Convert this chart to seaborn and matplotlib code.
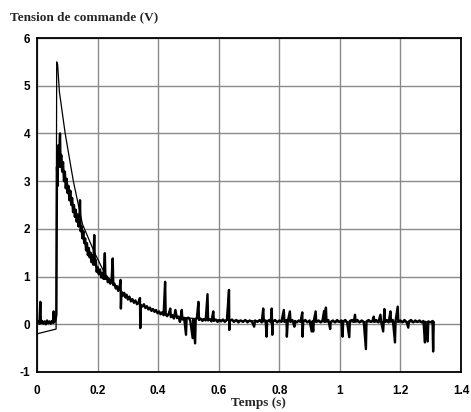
import matplotlib
matplotlib.use("Agg")
import matplotlib.pyplot as plt
import numpy as np
import pandas as pd
import seaborn as sns

# Model response (thin line)
model_t = [0.000, 0.063, 0.065, 0.068, 0.074, 0.093, 0.120, 0.150, 0.190, 0.225,
           0.260, 0.300, 0.350, 0.400, 0.450, 0.500, 0.600, 0.800, 1.000, 1.310]
model_v = [-0.20, -0.10, 5.50, 5.45, 4.87, 4.00, 3.00, 2.10, 1.50, 1.05,
           0.80, 0.55, 0.38, 0.26, 0.18, 0.13, 0.09, 0.06, 0.05, 0.05]

meas_t = [
    0.000, 0.004, 0.008, 0.011, 0.013, 0.017, 0.021, 0.025, 0.029, 0.033,
    0.037, 0.041, 0.045, 0.049, 0.053, 0.055, 0.057, 0.061, 0.064, 0.066,
    0.068, 0.070, 0.072, 0.074, 0.076, 0.078, 0.080, 0.083, 0.086, 0.089,
    0.092, 0.095, 0.098, 0.101, 0.104, 0.107, 0.110, 0.113, 0.116, 0.119,
    0.122, 0.125, 0.128, 0.131, 0.134, 0.137, 0.140, 0.142, 0.144, 0.147,
    0.150, 0.153, 0.156, 0.159, 0.162, 0.165, 0.168, 0.171, 0.174, 0.177,
    0.180, 0.183, 0.186, 0.189, 0.191, 0.194, 0.197, 0.200, 0.204, 0.208,
    0.212, 0.216, 0.220, 0.224, 0.226, 0.230, 0.234, 0.238, 0.242, 0.246,
    0.250, 0.252, 0.256, 0.260, 0.264, 0.268, 0.272, 0.276, 0.277, 0.279,
    0.284, 0.288, 0.292, 0.296, 0.300, 0.305, 0.310, 0.315, 0.320, 0.325,
    0.330, 0.335, 0.340, 0.341, 0.343, 0.348, 0.353, 0.358, 0.363, 0.368,
    0.373, 0.378, 0.383, 0.388, 0.393, 0.398, 0.403, 0.408, 0.413, 0.418,
    0.423, 0.425, 0.430, 0.435, 0.440, 0.442, 0.447, 0.452, 0.457, 0.462,
    0.467, 0.472, 0.478, 0.480, 0.486, 0.492, 0.494, 0.500, 0.506, 0.514,
    0.516, 0.522, 0.524, 0.528, 0.533, 0.535, 0.540, 0.546, 0.552, 0.557,
    0.563, 0.565, 0.570, 0.576, 0.582, 0.584, 0.590, 0.596, 0.602, 0.608,
    0.614, 0.620, 0.627, 0.634, 0.635, 0.637, 0.644, 0.650, 0.658, 0.665,
    0.672, 0.680, 0.688, 0.695, 0.702, 0.710, 0.717, 0.720, 0.728, 0.735,
    0.742, 0.747, 0.749, 0.755, 0.758, 0.760, 0.767, 0.772, 0.775, 0.777,
    0.779, 0.786, 0.793, 0.800, 0.807, 0.815, 0.817, 0.824, 0.825, 0.828,
    0.835, 0.837, 0.843, 0.850, 0.852, 0.858, 0.864, 0.870, 0.876, 0.877,
    0.879, 0.886, 0.893, 0.900, 0.907, 0.909, 0.912, 0.914, 0.920, 0.922,
    0.930, 0.937, 0.943, 0.948, 0.950, 0.954, 0.956, 0.962, 0.968, 0.970,
    0.977, 0.984, 0.991, 0.998, 1.005, 1.009, 1.011, 1.018, 1.024, 1.031,
    1.033, 1.040, 1.046, 1.050, 1.052, 1.058, 1.065, 1.072, 1.079, 1.086,
    1.088, 1.095, 1.102, 1.108, 1.112, 1.114, 1.120, 1.127, 1.134, 1.136,
    1.143, 1.145, 1.147, 1.149, 1.155, 1.161, 1.167, 1.169, 1.175, 1.182,
    1.184, 1.191, 1.193, 1.200, 1.207, 1.213, 1.220, 1.226, 1.228, 1.235,
    1.242, 1.249, 1.256, 1.263, 1.270, 1.276, 1.281, 1.283, 1.290, 1.292,
    1.300, 1.306, 1.308, 1.310,
]
meas_v = [
    0.03, 0.06, 0.01, 0.47, 0.02, 0.07, 0.01, 0.06, 0.00, 0.08,
    0.02, 0.06, 0.01, 0.07, 0.03, 0.27, 0.04, 0.09, 0.20, 3.30,
    2.90, 3.75, 3.30, 3.65, 4.00, 3.30, 3.55, 3.20, 3.40, 3.00,
    3.20, 2.85, 3.05, 2.75, 2.90, 2.60, 2.80, 2.50, 2.65, 2.35,
    2.50, 2.25, 2.40, 2.15, 2.30, 2.05, 2.20, 2.60, 1.95, 2.05,
    1.80, 1.95, 1.70, 1.80, 1.55, 1.70, 1.45, 1.60, 1.40, 1.50,
    1.30, 1.45, 1.25, 1.87, 1.25, 1.35, 1.10, 1.20, 1.05, 1.15,
    0.98, 1.08, 0.95, 1.49, 0.95, 1.00, 0.88, 0.95, 0.85, 0.90,
    1.38, 0.82, 0.85, 0.75, 0.80, 0.70, 0.76, 0.93, 0.33, 0.68,
    0.60, 0.66, 0.56, 0.62, 0.52, 0.58, 0.48, 0.53, 0.45, 0.50,
    0.42, 0.46, 0.55, -0.08, 0.40, 0.37, 0.42, 0.34, 0.38, 0.31,
    0.35, 0.28, 0.32, 0.26, 0.30, 0.23, 0.27, 0.21, 0.25, 0.19,
    0.89, 0.20, 0.17, 0.22, 0.33, 0.15, 0.19, 0.12, 0.30, 0.13,
    0.16, 0.05, 0.30, 0.10, 0.13, -0.22, 0.12, 0.14, 0.08, -0.29,
    0.11, -0.40, 0.10, 0.14, 0.47, 0.09, 0.12, 0.07, 0.11, 0.08,
    0.63, 0.08, 0.11, 0.06, 0.27, 0.07, 0.10, 0.05, 0.09, 0.06,
    0.10, 0.05, 0.09, 0.72, -0.12, 0.07, 0.10, 0.05, 0.09, 0.04,
    0.08, 0.05, 0.09, 0.04, 0.08, 0.05, -0.05, 0.08, 0.05, 0.09,
    0.04, 0.33, 0.06, 0.08, -0.26, 0.06, 0.09, 0.04, 0.33, -0.22,
    0.06, 0.09, 0.04, 0.08, 0.05, 0.30, 0.05, 0.09, -0.26, 0.06,
    0.27, 0.05, 0.09, -0.05, 0.07, 0.04, 0.08, 0.05, 0.25, -0.26,
    0.06, 0.09, 0.04, 0.08, -0.15, 0.06, -0.15, 0.07, 0.27, 0.05,
    0.08, 0.04, 0.09, 0.28, 0.05, 0.35, 0.06, 0.09, -0.10, 0.05,
    0.08, 0.04, 0.09, 0.05, 0.08, -0.26, 0.06, 0.09, 0.04, -0.27,
    0.07, 0.09, 0.05, 0.20, 0.06, 0.09, 0.04, 0.08, 0.05, -0.52,
    0.06, 0.09, 0.05, 0.08, 0.16, 0.05, 0.09, 0.04, 0.20, 0.06,
    -0.15, 0.07, 0.32, 0.05, 0.09, 0.04, 0.27, 0.06, 0.09, -0.38,
    0.07, 0.37, 0.05, 0.08, 0.04, 0.09, 0.05, -0.07, 0.06, 0.09,
    0.04, 0.08, 0.05, 0.08, 0.04, 0.07, -0.38, 0.05, -0.36, 0.06,
    0.04, 0.07, -0.57, 0.05,
]

x_ticks = [0, 0.2, 0.4, 0.6, 0.8, 1.0, 1.2, 1.4]
x_tick_labels = ["0", "0.2", "0.4", "0.6", "0.8", "1", "1.2", "1.4"]
y_ticks = [-1, 0, 1, 2, 3, 4, 5, 6]

df_model = pd.DataFrame({"t": model_t, "v": model_v})
df_meas = pd.DataFrame({"t": meas_t, "v": meas_v})

sns.set_style("whitegrid")
plt.rcParams["font.family"] = ["Liberation Sans", "DejaVu Sans"]
plt.rcParams["axes.unicode_minus"] = False

fig = plt.figure(figsize=(4.71, 4.12), dpi=100)
ax = fig.add_axes([37 / 471, 1 - 372 / 412, 424 / 471, 334 / 412])

sns.lineplot(data=df_model, x="t", y="v", ax=ax, color="black",
             linewidth=0.9, estimator=None, sort=False)
sns.lineplot(data=df_meas, x="t", y="v", ax=ax, color="black",
             linewidth=1.7, estimator=None, sort=False)

ax.set_xlim(0, 1.4)
ax.set_ylim(-1, 6)
ax.set_xticks(x_ticks)
ax.set_xticklabels(x_tick_labels)
ax.set_yticks(y_ticks)
ax.set_xlabel("")
ax.set_ylabel("")
ax.grid(True, color="#8a8a8a", linewidth=1.0, linestyle="-")
ax.set_axisbelow(True)
for s in ax.spines.values():
    s.set_color("black")
    s.set_linewidth(1.3)
ax.tick_params(axis="both", length=2, direction="in", labelsize=8.5,
               colors="black")
ax.tick_params(axis="x", pad=9)
ax.tick_params(axis="y", pad=5)
for lbl in ax.get_xticklabels() + ax.get_yticklabels():
    lbl.set_fontweight("bold")

fig.text(10 / 471, 1 - 17 / 412, "Tension de commande (V)",
         family="Liberation Serif", fontweight="bold", fontsize=9.5,
         ha="left", va="center")
fig.text(258 / 471, 1 - 403 / 412, "Temps (s)",
         family="Liberation Serif", fontweight="bold", fontsize=9.5,
         ha="center", va="center")

fig.savefig("out.png", dpi=100)
